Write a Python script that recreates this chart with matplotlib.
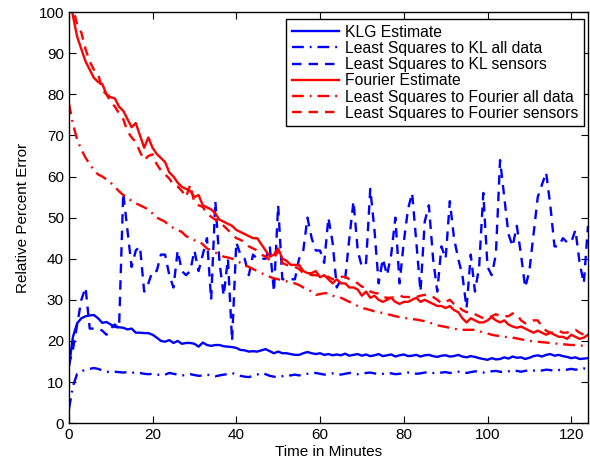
import numpy as np
import matplotlib
matplotlib.use('Agg')
import matplotlib.pyplot as plt

# ======================
# DATA (one value per minute)
# ======================
minutes = list(range(0, 125))

klg_estimate = [
    13.6, 21.0, 24.3, 25.5, 26.0, 26.2, 26.3, 25.5, 24.4, 24.6,
    24.0, 23.4, 23.3, 23.2, 22.8, 23.0, 22.0, 22.0, 21.9, 21.9,
    21.5, 20.8, 20.0, 19.8, 20.2, 19.5, 20.0, 19.3, 19.5, 19.5,
    19.3, 18.6, 19.6, 19.0, 18.8, 19.0, 19.0, 18.7, 18.6, 18.5,
    18.3, 17.8, 17.7, 17.4, 17.5, 17.4, 17.7, 18.0, 17.5, 17.0,
    17.4, 17.0, 17.0, 16.8, 16.6, 16.6, 17.0, 17.3, 17.0, 16.8,
    17.0, 16.6, 16.8, 16.5, 16.7, 16.5, 16.9, 16.4, 16.6, 16.8,
    16.4, 16.7, 16.3, 16.5, 16.8, 16.3, 16.5, 16.7, 16.2, 16.5,
    16.7, 16.3, 16.4, 16.6, 16.2, 16.5, 16.6, 16.3, 16.1, 16.4,
    16.5, 16.2, 16.3, 16.6, 16.2, 16.0, 16.3, 16.1, 15.8, 15.6,
    15.4, 15.8, 15.5, 15.6, 16.0, 15.7, 16.2, 15.9, 16.0, 15.6,
    15.9, 16.3, 16.5, 16.2, 16.6, 16.8, 16.4, 16.6, 16.3, 16.1,
    15.8, 16.0, 15.6, 15.7, 15.8,
]

ls_kl_all = [
    3.2, 9.0, 12.0, 12.6, 13.0, 13.2, 13.4, 13.2, 12.8, 12.5,
    12.4, 12.5, 12.4, 12.3, 12.4, 12.2, 12.4, 12.2, 12.0, 11.9,
    12.0, 11.8, 11.7, 11.8, 12.2, 12.0, 11.8, 11.6, 11.7, 11.9,
    11.7, 11.5, 11.6, 11.8, 11.6, 11.4, 11.6, 11.8, 11.9, 12.2,
    11.8, 11.5, 11.3, 11.2, 11.5, 11.8, 12.2, 11.9, 11.5, 11.3,
    11.2, 11.4, 11.7, 11.6, 11.8, 11.6, 11.9, 12.0, 12.1, 12.2,
    12.0, 11.8, 11.9, 12.1, 12.0, 11.8, 12.0, 12.2, 12.1, 11.9,
    12.0, 12.2, 12.3, 12.1, 11.9, 12.0, 12.2, 12.1, 11.9, 12.0,
    12.1, 12.3, 12.2, 12.0, 12.1, 12.3, 12.4, 12.2, 12.1, 12.3,
    12.4, 12.2, 12.3, 12.5, 12.4, 12.2, 12.4, 12.6, 12.5, 12.3,
    12.4, 12.6, 12.7, 12.5, 12.4, 12.6, 12.8, 12.7, 12.5, 12.7,
    12.9, 12.8, 12.6, 12.8, 13.0, 12.9, 12.7, 12.9, 13.1, 13.0,
    13.2, 13.0, 13.1, 13.3, 13.2,
]

ls_kl_sensors = [
    14, 18, 24, 30, 33, 23, 23, 23, 22.5, 21.5,
    23, 24, 23, 56, 47, 38, 42, 43, 32, 34,
    37, 37, 41, 41, 36, 33, 42, 37, 36, 37,
    42, 37, 41, 45, 30, 54, 39, 31, 40, 20,
    44, 41, 40, 36, 41, 40, 40, 40, 43, 32,
    53, 35, 35, 35, 35, 40, 42, 50, 45, 42,
    42, 39, 50, 44, 33, 35, 35, 45, 54, 42,
    38, 39, 57, 47, 34, 40, 36, 41, 50, 34,
    44, 52, 56, 44, 32, 49, 53, 40, 32, 43,
    40, 54, 45, 40, 36, 28, 41, 32, 38, 56,
    38, 36, 41, 64, 55, 46, 43, 48, 41, 33,
    37, 46, 55, 58, 61, 53, 43, 43, 45, 44,
    44, 47, 39, 34, 48,
]

fourier_estimate = [
    105, 99, 94, 91, 88, 86, 84, 83, 82.5, 80,
    79.3, 79, 77, 76, 74, 72, 73, 70, 67, 69.5,
    67, 65.5, 64.5, 63.5, 61, 60, 58.5, 57.5, 57, 56.5,
    55, 55.5, 53, 52.5, 52, 51, 49.5, 49, 48.5, 48,
    47, 46.5, 46, 45.5, 45, 45, 43.5, 42, 40.5, 41,
    42.5, 40, 39.5, 38.5, 38.5, 38.5, 37, 36.5, 36.5, 37,
    35.5, 36, 35, 34, 35, 34, 34, 33, 33, 32.5,
    31, 32, 30.5, 31, 30, 29.5, 30, 30.5, 29.5, 29,
    29.5, 29.5, 30, 30.5, 29.5, 30, 29.5, 29, 28.5, 28.5,
    28, 28.5, 27.5, 27, 25.5, 24.5, 25.5, 25, 24.5, 24.5,
    25, 25.8, 25, 24.5, 25, 24, 23.5, 23.2, 23.5, 23,
    22.5, 22, 22.5, 22, 21.5, 22, 21.5, 21, 21, 20.5,
    21.5, 21, 20.5, 20.8, 21.5,
]

ls_fourier_all = [
    78, 72.7, 69, 66.5, 64.6, 63, 61.5, 60.5, 60, 59.3,
    58.5, 57.5, 56.4, 55.5, 55, 54, 53.5, 53, 52.5, 52,
    51, 50, 49.5, 49, 48, 47.5, 47, 46.5, 45.5, 45,
    44.5, 44.3, 43.5, 42.5, 42, 41.5, 41, 40.5, 40.3, 40,
    39.5, 39, 38.5, 38, 37.5, 37, 36.5, 36, 35.6, 35.2,
    35, 34.8, 34.5, 34.2, 34, 33.6, 33, 32.5, 32, 31.2,
    31.4, 31.6, 31.6, 31, 30.7, 30.5, 30, 29.5, 29, 28.5,
    28, 27.8, 27.5, 27.2, 27, 26.8, 26.5, 26.3, 26, 25.8,
    25.6, 25.5, 25.3, 25.2, 25, 24.8, 24.5, 24.2, 23.8, 23.6,
    23.4, 23.2, 23, 22.7, 22.7, 22.7, 22.7, 22.7, 22.4, 22,
    21.8, 21.5, 21.3, 21.2, 21, 20.9, 20.8, 20.6, 20.4, 20.2,
    20, 19.9, 19.8, 19.7, 19.6, 19.5, 19.4, 19.3, 19.2, 19.1,
    19, 19, 18.9, 18.8, 18.8,
]

ls_fourier_sensors = [
    108, 101, 97, 95, 91, 88, 86, 85, 81, 80,
    78.2, 77, 75.4, 74, 71, 69.5, 68.4, 66, 64, 65,
    65.4, 63, 61.5, 60.5, 59.5, 58, 57.6, 56.5, 55, 58,
    53.6, 53, 52.6, 51, 50.2, 49.5, 48.5, 48, 47, 46,
    45, 44.6, 44, 43, 42.5, 42, 41, 40.5, 39.7, 40,
    42, 39, 38.5, 38.2, 38, 37.5, 36.5, 36.5, 36, 36,
    35.8, 35.6, 35.6, 35, 35.2, 35.6, 35.6, 35, 34.5, 34,
    33.2, 33, 32, 31.7, 31.5, 30.7, 30.5, 30.5, 30.7, 31,
    30.7, 30.7, 30.5, 30.7, 31, 31.2, 31.2, 30.7, 30, 29.2,
    29.5, 30, 29, 28.5, 27.5, 27, 27, 26.5, 26, 25.5,
    25.5, 26, 26.5, 26, 26, 26, 26.7, 26.5, 25, 24.3,
    24.5, 25, 25, 23.5, 22.5, 22, 22, 22.5, 22, 22,
    22.5, 22.7, 22, 21.5, 21,
]

labels = ['KLG Estimate', 'Least Squares to KL all data', 'Least Squares to KL sensors',
          'Fourier Estimate', 'Least Squares to Fourier all data', 'Least Squares to Fourier sensors']

# ======================
# PLOT
# ======================
plt.rcParams['font.family'] = ['Liberation Sans', 'DejaVu Sans']
plt.rcParams['font.size'] = 11

fig = plt.figure(figsize=(5.9, 4.67), dpi=100)
ax = fig.add_axes([0.1166, 0.094, 0.8800, 0.880])

lw = 1.7
dashed = (0, (4, 3))            # MATLAB-like '--'
dashdot = (0, (5, 2.5, 0.8, 2.5))  # MATLAB-like '-.'

ax.plot(minutes, klg_estimate, color='#0000ff', ls='-', lw=lw, label=labels[0])
ax.plot(minutes, ls_kl_all, color='#0000ff', ls=dashdot, lw=lw, label=labels[1])
ax.plot(minutes, ls_kl_sensors, color='#0000ff', ls=dashed, lw=lw, label=labels[2])
ax.plot(minutes, fourier_estimate, color='#ff0000', ls='-', lw=lw, label=labels[3])
ax.plot(minutes, ls_fourier_all, color='#ff0000', ls=dashdot, lw=lw, label=labels[4])
ax.plot(minutes, ls_fourier_sensors, color='#ff0000', ls=dashed, lw=lw, label=labels[5])

ax.set_xlim(0, 124)
ax.set_ylim(0, 100)
ax.set_xticks(np.arange(0, 121, 20))
ax.set_yticks(np.arange(0, 101, 10))
ax.tick_params(direction='in', top=True, right=True, length=5, width=0.8, labelsize=11)
for sp in ax.spines.values():
    sp.set_linewidth(1.0)

ax.set_xlabel('Time in Minutes', fontsize=11, labelpad=2)
ax.set_ylabel('Relative Percent Error', fontsize=11, labelpad=6)

leg = ax.legend(loc='upper right', bbox_to_anchor=(0.992, 0.983), fontsize=11.3,
                fancybox=False, framealpha=1, edgecolor='black', labelspacing=0.08,
                handlelength=3.0, handletextpad=0.4, borderpad=0.35, borderaxespad=0)
leg.get_frame().set_linewidth(1.0)

plt.savefig('out.png', dpi=100)
plt.close()
